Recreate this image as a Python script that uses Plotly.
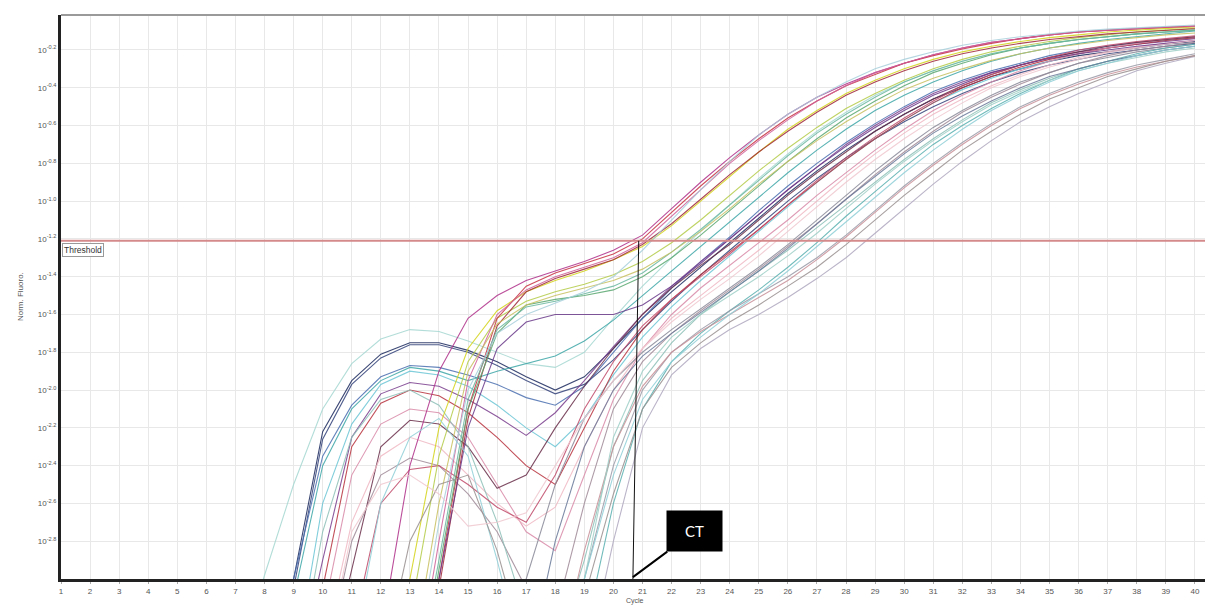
import plotly.graph_objects as go

# ---------------- data (log10 of Norm. Fluoro. per cycle) ----------------
cycles = list(range(1, 41))
x_tick_labels = [str(c) for c in cycles]
y_tick_exponents = [-0.2, -0.4, -0.6, -0.8, -1.0, -1.2, -1.4, -1.6, -1.8, -2.0, -2.2, -2.4, -2.6, -2.8]
threshold_exp = -1.21
ct_cycle = 20.67

# each series: first cycle listed, then values from that cycle through cycle 40
a1_start, a1 = 7, [-3.5, -2.98, -2.5, -2.1, -1.86, -1.73, -1.68, -1.69, -1.74, -1.8, -1.86, -1.88, -1.8, -1.62, -1.45, -1.3, -1.16, -1.02, -0.88, -0.75, -0.63, -0.53, -0.44, -0.37, -0.31, -0.26, -0.22, -0.19, -0.165, -0.145, -0.13, -0.115, -0.105, -0.095]
a2_start, a2 = 8, [-3.6, -3.0, -2.22, -1.95, -1.81, -1.75, -1.75, -1.79, -1.85, -1.93, -2.0, -1.93, -1.78, -1.62, -1.48, -1.35, -1.22, -1.09, -0.96, -0.84, -0.73, -0.63, -0.54, -0.46, -0.4, -0.34, -0.3, -0.26, -0.23, -0.21, -0.19, -0.17, -0.155]
a3_start, a3 = 8, [-3.6, -3.05, -2.26, -1.97, -1.83, -1.76, -1.76, -1.8, -1.87, -1.95, -2.02, -1.97, -1.84, -1.68, -1.53, -1.39, -1.26, -1.13, -1.0, -0.88, -0.77, -0.67, -0.58, -0.5, -0.43, -0.37, -0.32, -0.28, -0.25, -0.22, -0.2, -0.18, -0.165]
a4_start, a4 = 8, [-3.6, -3.0, -2.35, -2.08, -1.93, -1.87, -1.88, -1.92, -1.97, -2.04, -2.08, -1.98, -1.8, -1.62, -1.46, -1.32, -1.19, -1.05, -0.92, -0.8, -0.69, -0.59, -0.5, -0.42, -0.36, -0.31, -0.27, -0.23, -0.2, -0.18, -0.16, -0.145, -0.13]
a5_start, a5 = 8, [-3.6, -3.1, -2.4, -2.1, -1.95, -1.88, -1.9, -1.95, -1.9, -1.86, -1.82, -1.74, -1.63, -1.5, -1.37, -1.24, -1.11, -0.98, -0.85, -0.73, -0.62, -0.52, -0.44, -0.37, -0.31, -0.26, -0.22, -0.19, -0.165, -0.145, -0.13, -0.115, -0.1]
a6_start, a6 = 9, [-3.5, -2.6, -2.18, -1.97, -1.9, -1.92, -1.98, -2.08, -2.2, -2.3, -2.15, -1.92, -1.72, -1.56, -1.42, -1.29, -1.16, -1.03, -0.9, -0.78, -0.67, -0.57, -0.48, -0.41, -0.35, -0.3, -0.26, -0.22, -0.19, -0.17, -0.15, -0.135]

b1_start, b1 = 9, [-3.6, -2.9, -2.25, -2.02, -1.96, -1.98, -2.05, -2.14, -2.24, -2.12, -1.95, -1.77, -1.6, -1.45, -1.32, -1.2, -1.07, -0.94, -0.82, -0.7, -0.6, -0.51, -0.43, -0.37, -0.32, -0.28, -0.24, -0.21, -0.19, -0.17, -0.155, -0.14]
b2_start, b2 = 9, [-3.8, -3.05, -2.3, -2.07, -2.0, -2.03, -2.12, -2.25, -2.4, -2.5, -2.2, -1.9, -1.68, -1.52, -1.39, -1.27, -1.15, -1.02, -0.9, -0.78, -0.67, -0.57, -0.48, -0.4, -0.34, -0.29, -0.25, -0.22, -0.19, -0.17, -0.15, -0.135]
b3_start, b3 = 10, [-3.2, -2.45, -2.18, -2.1, -2.12, -2.25, -2.5, -2.75, -2.85, -2.45, -2.05, -1.78, -1.6, -1.46, -1.34, -1.22, -1.1, -0.97, -0.85, -0.73, -0.62, -0.52, -0.44, -0.37, -0.31, -0.26, -0.22, -0.19, -0.165, -0.145, -0.13]
b4_start, b4 = 10, [-3.6, -2.95, -2.3, -2.16, -2.18, -2.3, -2.52, -2.45, -2.2, -1.98, -1.78, -1.6, -1.46, -1.34, -1.23, -1.1, -0.97, -0.85, -0.74, -0.63, -0.54, -0.46, -0.39, -0.33, -0.28, -0.24, -0.21, -0.18, -0.16, -0.145, -0.13]
b5_start, b5 = 10, [-3.4, -2.7, -2.35, -2.25, -2.3, -2.45, -2.6, -2.72, -2.62, -2.3, -2.0, -1.78, -1.62, -1.5, -1.38, -1.26, -1.13, -1.0, -0.87, -0.75, -0.64, -0.54, -0.46, -0.39, -0.33, -0.28, -0.24, -0.21, -0.185, -0.165, -0.15]
b6_start, b6 = 10, [-3.5, -2.8, -2.45, -2.36, -2.4, -2.55, -2.75, -3.05, -3.2, -2.6, -2.1, -1.85, -1.7, -1.58, -1.47, -1.36, -1.24, -1.12, -0.99, -0.86, -0.74, -0.63, -0.53, -0.45, -0.38, -0.32, -0.27, -0.23, -0.2, -0.18, -0.16]
b7_start, b7 = 9, [-3.6, -2.75, -2.25, -2.05, -2.0, -2.08, -2.3, -2.7, -3.2, -3.4, -2.9, -2.3, -1.95, -1.75, -1.6, -1.48, -1.37, -1.26, -1.14, -1.02, -0.9, -0.78, -0.67, -0.57, -0.48, -0.41, -0.35, -0.3, -0.26, -0.23, -0.2, -0.18]
b8_start, b8 = 11, [-3.3, -2.6, -2.42, -2.4, -2.5, -2.62, -2.7, -2.45, -2.1, -1.85, -1.66, -1.52, -1.4, -1.28, -1.15, -1.02, -0.89, -0.77, -0.66, -0.56, -0.47, -0.39, -0.33, -0.28, -0.24, -0.2, -0.175, -0.155, -0.14, -0.125]

c1_start, c1 = 12, [-3.3, -2.4, -1.9, -1.62, -1.5, -1.42, -1.37, -1.32, -1.26, -1.18, -1.04, -0.9, -0.77, -0.65, -0.54, -0.45, -0.38, -0.32, -0.27, -0.225, -0.19, -0.16, -0.14, -0.12, -0.105, -0.095, -0.087, -0.08, -0.073]
c2_start, c2 = 12, [-3.8, -3.0, -2.2, -1.78, -1.58, -1.48, -1.42, -1.37, -1.31, -1.24, -1.13, -1.0, -0.87, -0.74, -0.62, -0.52, -0.43, -0.36, -0.3, -0.25, -0.21, -0.18, -0.155, -0.135, -0.12, -0.105, -0.095, -0.085, -0.078]
c3_start, c3 = 13, [-3.2, -2.35, -1.85, -1.62, -1.53, -1.48, -1.44, -1.39, -1.32, -1.22, -1.1, -0.97, -0.84, -0.72, -0.61, -0.51, -0.43, -0.36, -0.3, -0.25, -0.21, -0.18, -0.155, -0.135, -0.12, -0.105, -0.095, -0.085]
c4_start, c4 = 13, [-3.8, -3.0, -2.1, -1.62, -1.45, -1.38, -1.33, -1.28, -1.2, -1.06, -0.92, -0.79, -0.67, -0.56, -0.47, -0.39, -0.33, -0.27, -0.23, -0.195, -0.165, -0.14, -0.12, -0.105, -0.095, -0.087, -0.08, -0.073]
c5_start, c5 = 13, [-3.9, -3.05, -2.15, -1.66, -1.48, -1.41, -1.36, -1.31, -1.23, -1.12, -0.99, -0.86, -0.74, -0.63, -0.53, -0.44, -0.37, -0.31, -0.26, -0.22, -0.19, -0.165, -0.145, -0.13, -0.115, -0.105, -0.095, -0.088]
c6_start, c6 = 13, [-3.8, -2.95, -2.1, -1.7, -1.55, -1.52, -1.5, -1.47, -1.4, -1.3, -1.18, -1.05, -0.92, -0.79, -0.67, -0.56, -0.47, -0.39, -0.32, -0.27, -0.225, -0.19, -0.165, -0.145, -0.13, -0.115, -0.105, -0.095]
c7_start, c7 = 13, [-3.7, -2.9, -2.05, -1.68, -1.56, -1.53, -1.49, -1.45, -1.38, -1.27, -1.15, -1.02, -0.89, -0.76, -0.64, -0.54, -0.45, -0.37, -0.31, -0.26, -0.22, -0.19, -0.165, -0.145, -0.13, -0.115, -0.105, -0.095]
c8_start, c8 = 13, [-3.8, -3.0, -2.2, -1.78, -1.64, -1.6, -1.6, -1.6, -1.55, -1.45, -1.33, -1.2, -1.07, -0.94, -0.82, -0.71, -0.61, -0.52, -0.44, -0.38, -0.32, -0.28, -0.245, -0.22, -0.2, -0.18, -0.165, -0.15]
c9_start, c9 = 13, [-3.7, -2.8, -1.95, -1.6, -1.47, -1.4, -1.35, -1.3, -1.22, -1.08, -0.94, -0.8, -0.68, -0.57, -0.47, -0.39, -0.32, -0.27, -0.225, -0.19, -0.16, -0.14, -0.12, -0.105, -0.095, -0.087, -0.08, -0.075]
c10_start, c10 = 13, [-3.5, -2.6, -1.9, -1.65, -1.55, -1.5, -1.46, -1.42, -1.36, -1.27, -1.16, -1.04, -0.91, -0.79, -0.68, -0.58, -0.49, -0.41, -0.35, -0.3, -0.255, -0.22, -0.19, -0.17, -0.15, -0.135, -0.12, -0.11]
c11_start, c11 = 13, [-3.6, -2.7, -2.0, -1.7, -1.6, -1.54, -1.48, -1.4, -1.26, -1.1, -0.94, -0.79, -0.65, -0.54, -0.45, -0.37, -0.3, -0.25, -0.21, -0.175, -0.15, -0.13, -0.115, -0.1, -0.09, -0.082, -0.075, -0.068]

d1_start, d1 = 16, [-3.6, -3.0, -2.5, -2.15, -1.95, -1.8, -1.68, -1.57, -1.46, -1.35, -1.23, -1.1, -0.97, -0.84, -0.72, -0.61, -0.52, -0.44, -0.37, -0.32, -0.27, -0.24, -0.21, -0.19, -0.17]
d2_start, d2 = 19, [-3.3, -2.6, -2.1, -1.85, -1.7, -1.58, -1.47, -1.35, -1.22, -1.08, -0.95, -0.82, -0.7, -0.6, -0.51, -0.43, -0.36, -0.3, -0.26, -0.22, -0.19, -0.17]
d3_start, d3 = 18, [-3.6, -3.0, -2.4, -2.0, -1.8, -1.68, -1.58, -1.49, -1.4, -1.3, -1.18, -1.05, -0.92, -0.8, -0.69, -0.59, -0.5, -0.43, -0.37, -0.32, -0.28, -0.25, -0.22]
d4_start, d4 = 19, [-3.5, -2.8, -2.2, -1.92, -1.78, -1.68, -1.6, -1.51, -1.41, -1.3, -1.17, -1.04, -0.91, -0.79, -0.68, -0.58, -0.5, -0.43, -0.37, -0.31, -0.27, -0.235]
d5_start, d5 = 18, [-3.5, -2.85, -2.3, -1.98, -1.8, -1.69, -1.6, -1.51, -1.42, -1.31, -1.19, -1.06, -0.93, -0.81, -0.7, -0.6, -0.51, -0.44, -0.38, -0.33, -0.29, -0.26, -0.23]
d6_start, d6 = 17, [-3.5, -2.8, -2.3, -2.0, -1.82, -1.7, -1.59, -1.48, -1.37, -1.25, -1.12, -0.99, -0.87, -0.75, -0.64, -0.55, -0.47, -0.4, -0.34, -0.3, -0.26, -0.23, -0.2, -0.18]
d7_start, d7 = 18, [-3.6, -3.0, -2.25, -1.9, -1.72, -1.6, -1.5, -1.4, -1.29, -1.17, -1.04, -0.91, -0.79, -0.68, -0.58, -0.49, -0.42, -0.36, -0.31, -0.27, -0.24, -0.21, -0.19]

e1_start, e1 = 11, [-3.4, -2.6, -2.25, -2.15, -2.35, -2.9, -3.5, -3.6, -3.0, -2.45, -2.05, -1.85, -1.72, -1.6, -1.49, -1.37, -1.24, -1.11, -0.98, -0.85, -0.73, -0.62, -0.52, -0.44, -0.37, -0.31, -0.27, -0.23, -0.2, -0.18]
e2_start, e2 = 12, [-3.5, -2.8, -2.5, -2.45, -2.85, -3.4, -3.5, -3.1, -2.55, -2.1, -1.88, -1.75, -1.64, -1.55, -1.45, -1.35, -1.23, -1.1, -0.97, -0.85, -0.73, -0.63, -0.54, -0.46, -0.4, -0.34, -0.3, -0.26, -0.23]
e3_start, e3 = 10, [-3.5, -2.75, -2.5, -2.45, -2.55, -2.72, -2.7, -2.65, -2.4, -2.15, -1.95, -1.78, -1.64, -1.52, -1.41, -1.29, -1.16, -1.03, -0.9, -0.78, -0.67, -0.57, -0.48, -0.4, -0.34, -0.29, -0.25, -0.215, -0.19, -0.17, -0.15]

series = [
    (a1_start, a1, "#a6d8d2"), (a2_start, a2, "#1c2a5e"), (a3_start, a3, "#33427a"),
    (a4_start, a4, "#4a6fb0"), (a5_start, a5, "#3fa7a8"), (a6_start, a6, "#6cc6d6"),
    (b1_start, b1, "#7a3e8e"), (b2_start, b2, "#b8323e"), (b3_start, b3, "#d98aa8"),
    (b4_start, b4, "#6a2f4a"), (b5_start, b5, "#f0b8c4"), (b6_start, b6, "#a08a98"),
    (b7_start, b7, "#8ec0b8"), (b8_start, b8, "#c04a6a"),
    (c1_start, c1, "#b0308a"), (c2_start, c2, "#d4d41a"), (c3_start, c3, "#b4cc48"),
    (c4_start, c4, "#c83040"), (c5_start, c5, "#a02838"), (c6_start, c6, "#5aa870"),
    (c7_start, c7, "#6ab8a0"), (c8_start, c8, "#6a3a8a"), (c9_start, c9, "#d0609a"),
    (c10_start, c10, "#c8c060"), (c11_start, c11, "#a8d0dc"),
    (d1_start, d1, "#8a8a9a"), (d2_start, d2, "#5ab0b0"), (d3_start, d3, "#9a9aa8"),
    (d4_start, d4, "#b0a8c0"), (d5_start, d5, "#c89098"), (d6_start, d6, "#6a7a9a"),
    (d7_start, d7, "#a0d0c8"),
    (e1_start, e1, "#90d0d8"), (e2_start, e2, "#9a9090"), (e3_start, e3, "#f0c8d0"),
]

fig = go.Figure()
for start, vals, color in series:
    assert len(vals) == 41 - start, (start, len(vals))
    ys = [None] * (start - 1) + [10 ** v for v in vals]
    fig.add_trace(go.Scatter(x=cycles, y=ys, mode="lines",
                             line=dict(color=color, width=1.1), opacity=0.85,
                             hoverinfo="skip", showlegend=False))

# threshold line
fig.add_trace(go.Scatter(x=[1, 40.45], y=[10 ** threshold_exp] * 2, mode="lines",
                         line=dict(color="#d48a8a", width=2), hoverinfo="skip",
                         showlegend=False))

# the page body adds an 8px offset, so the figure is sized/margined to compensate
font_fam = "Liberation Sans, Arial, sans-serif"
fig.update_layout(
    width=1205, height=599,
    margin=dict(l=53, r=5, t=7, b=28),
    paper_bgcolor="white", plot_bgcolor="white",
    font=dict(family=font_fam, color="#555555", size=8),
)
fig.update_xaxes(
    range=[1, 40.45], tickmode="array", tickvals=cycles, ticktext=x_tick_labels,
    tickfont=dict(size=8, color="#555555"), ticks="outside", ticklen=2, tickcolor="#aaaaaa",
    showgrid=True, gridcolor="#e8e8e8", gridwidth=1, automargin=False,
    showline=True, linecolor="#222222", linewidth=3, mirror=False, zeroline=False,
)
fig.update_yaxes(
    type="log", range=[-3.0, -0.015],
    tickmode="array", tickvals=[10 ** e for e in y_tick_exponents],
    ticktext=["10<sup>%.1f</sup>" % e for e in y_tick_exponents],
    tickfont=dict(size=8, color="#555555"), ticks="", automargin=False,
    showgrid=True, gridcolor="#e8e8e8", gridwidth=1,
    showline=True, linecolor="#222222", linewidth=3, mirror=False, zeroline=False,
)

# axis titles
fig.add_annotation(x=0.5, y=-0.039, xref="paper", yref="paper", text="Cycle",
                   showarrow=False, font=dict(size=7, color="#555555"),
                   xanchor="center", yanchor="middle")
fig.add_annotation(x=-0.0357, y=0.5, xref="paper", yref="paper", text="Norm. Fluoro.",
                   showarrow=False, textangle=-90, font=dict(size=8, color="#555555"),
                   xanchor="center", yanchor="middle")

# grey frame on top/right
fig.add_shape(type="line", xref="paper", yref="paper", x0=0, x1=1, y0=1, y1=1,
              line=dict(color="#9a9a9a", width=2))
fig.add_shape(type="line", xref="paper", yref="paper", x0=1, x1=1, y0=0, y1=1,
              line=dict(color="#9a9a9a", width=2))

# CT vertical marker (shape positions on log axes are data values)
fig.add_shape(type="line", xref="x", yref="y", x0=ct_cycle, x1=ct_cycle + 0.2,
              y0=10 ** -3.0, y1=10 ** threshold_exp,
              line=dict(color="#111111", width=1))

# Threshold label
fig.add_annotation(x=0.001, y=threshold_exp, xref="paper", yref="y",
                   xanchor="left", yanchor="top", yshift=-2, text="Threshold",
                   showarrow=False, font=dict(size=8.5, color="#333333"),
                   bgcolor="white", bordercolor="#999999", borderwidth=1, borderpad=1)

# CT callout
fig.add_annotation(x=ct_cycle, y=-2.99, xref="x", yref="y", text="CT",
                   showarrow=True, arrowhead=0, arrowwidth=2, arrowcolor="#000000",
                   ax=62, ay=-46, width=51, height=36, borderpad=2,
                   bgcolor="#000000", font=dict(size=15, color="white", family="Lato, sans-serif"))

fig.write_html("out.html")
